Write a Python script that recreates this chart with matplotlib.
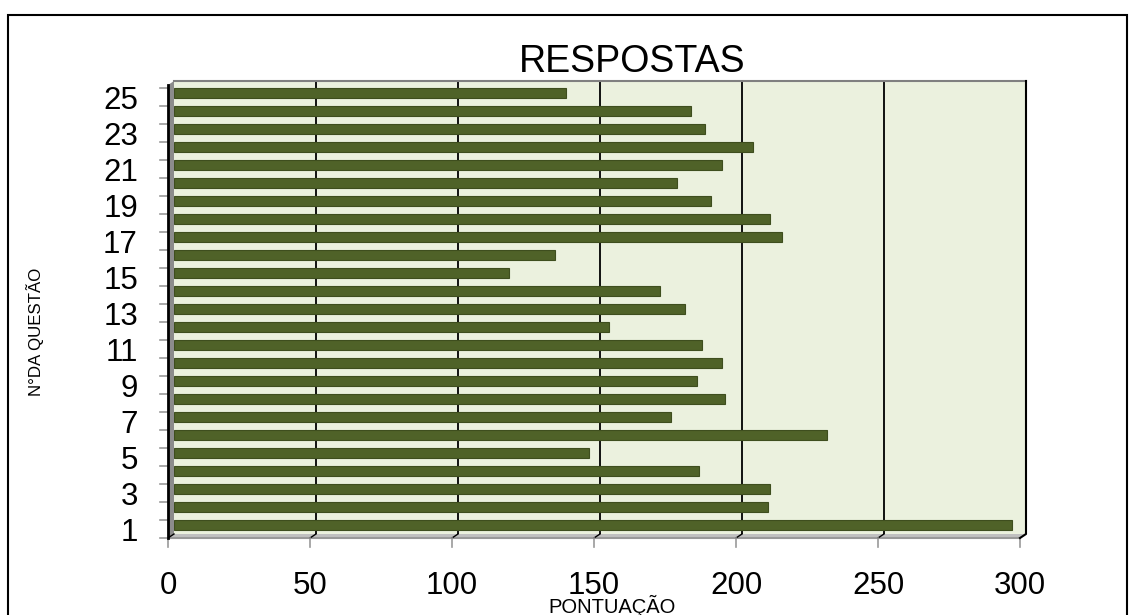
import matplotlib
matplotlib.use('Agg')
import matplotlib.pyplot as plt
from matplotlib.patches import Polygon, Rectangle
from matplotlib.transforms import ScaledTranslation

plt.rcParams['font.family'] = ['Liberation Sans', 'DejaVu Sans']

# data
questoes = list(range(1, 26))
pontuacao = [295, 209, 210, 185, 146, 230, 175, 194, 184, 193, 186, 153, 180,
             171, 118, 134, 214, 210, 189, 177, 193, 204, 187, 182, 138]
xticks = [0, 50, 100, 150, 200, 250, 300]
yticks = [q for q in questoes if q % 2 == 1]
ytick_labels = [str(q) for q in yticks]

W, H = 1135, 615
fig = plt.figure(figsize=(W / 100, H / 100), dpi=100)
ax = fig.add_axes([174 / W, (H - 534) / H, 852 / W, 453 / H])

xmax = 300
ylo, yhi = 0.5, 25.67
ax.set_xlim(0, xmax)
ax.set_ylim(ylo, yhi)
ax.set_facecolor('#EBF1DE')
for s in ax.spines.values():
    s.set_visible(False)

# pixel -> data units, and the offset of the "front" plane (fake 3d)
ux = xmax / 852
uy = (yhi - ylo) / 453
fdx, fdy = -6 * ux, -4 * uy

# gridlines
for x in xticks[1:-1]:
    ax.plot([x, x], [ylo, yhi], color='black', lw=1.3, zorder=1)

ax.barh(questoes, pontuacao, height=0.58, color='#4F6228',
        edgecolor='#3E4E1E', linewidth=0.8, zorder=3)

# floor
floor = Polygon([(0, ylo), (xmax, ylo), (xmax + fdx, ylo + fdy), (fdx, ylo + fdy)],
                closed=True, facecolor='#C0C0C0', edgecolor='none',
                clip_on=False, zorder=4)
ax.add_patch(floor)
ax.plot([fdx, xmax + fdx], [ylo + fdy, ylo + fdy], color='#999999', lw=1.5,
        clip_on=False, zorder=5)

# left wall
wall = Polygon([(0, ylo), (0, yhi), (fdx, yhi + fdy), (fdx, ylo + fdy)],
               closed=True, facecolor='#8C8C8C', edgecolor='none',
               clip_on=False, zorder=4)
ax.add_patch(wall)
ax.plot([fdx, fdx], [ylo + fdy, yhi + fdy], color='black', lw=2,
        clip_on=False, zorder=6)

# back plane edges
ax.plot([0, xmax], [yhi, yhi], color='#808080', lw=1.5, clip_on=False, zorder=5)
ax.plot([xmax, xmax, xmax + fdx], [yhi, ylo, ylo + fdy], color='black', lw=1.5,
        clip_on=False, zorder=6)
for x in xticks[:-1]:
    ax.plot([x, x + fdx], [ylo, ylo + fdy], color='black', lw=1,
            clip_on=False, zorder=5)

# tick marks on the front plane
for x in xticks:
    ax.plot([x + fdx, x + fdx], [ylo + fdy, ylo + fdy - 9 * uy],
            color='#9A9A9A', lw=1.2, clip_on=False, zorder=5)
for q in questoes + [26]:
    b = q - 0.5
    ax.plot([fdx, fdx - 8 * ux], [b + fdy, b + fdy],
            color='#9A9A9A', lw=1.2, clip_on=False, zorder=5)

ax.set_xticks(xticks)
ax.set_xticklabels([str(x) for x in xticks], fontsize=22.5)
ax.set_yticks(yticks)
ax.set_yticklabels(ytick_labels, fontsize=22.5)
ax.tick_params(axis='x', length=0, pad=23.5)
ax.tick_params(axis='y', length=0, pad=26)

shift_x = ScaledTranslation(-6 / 100, -4 / 100, fig.dpi_scale_trans)
shift_y = ScaledTranslation(0, -4 / 100, fig.dpi_scale_trans)
for lab in ax.get_xticklabels():
    lab.set_transform(lab.get_transform() + shift_x)
for lab in ax.get_yticklabels():
    lab.set_transform(lab.get_transform() + shift_y)

ax.set_title('RESPOSTAS', fontsize=27, x=(632 - 174) / 852, pad=6.5)
fig.text(612 / W, (H - 613) / H, 'PONTUAÇÃO', ha='center', va='baseline',
         fontsize=14.5)
fig.text(35 / W, 1 - 332 / H, 'N°DA QUESTÃO', rotation=90, ha='center',
         va='center', fontsize=12.2)

# outer frame of the chart
fig.patches.append(Rectangle((8 / W, -0.05), (1127 - 8) / W, (H - 15) / H + 0.05,
                             transform=fig.transFigure, fill=False,
                             edgecolor='black', lw=1.5))

fig.savefig('out.png', dpi=100)
